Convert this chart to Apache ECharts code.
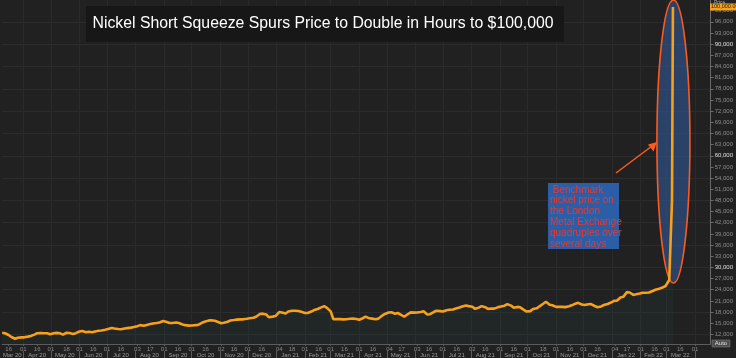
<!DOCTYPE html>
<html><head><meta charset="utf-8">
<script src="https://cdn.jsdelivr.net/npm/echarts@6/dist/echarts.min.js"></script>
<style>html,body{margin:0;padding:0;background:#212121;}#c{width:736px;height:358px;}</style>
</head><body><div id="c"></div>
<script>
const dates = [
'2020-03-09','2020-03-12','2020-03-16','2020-03-19','2020-03-23','2020-03-26','2020-03-30','2020-04-02','2020-04-06','2020-04-09',
'2020-04-13','2020-04-16','2020-04-20','2020-04-23','2020-04-27','2020-04-30','2020-05-04','2020-05-07','2020-05-11','2020-05-14',
'2020-05-18','2020-05-21','2020-05-25','2020-05-28','2020-06-01','2020-06-04','2020-06-08','2020-06-11','2020-06-15','2020-06-18',
'2020-06-22','2020-06-25','2020-06-29','2020-07-02','2020-07-06','2020-07-09','2020-07-13','2020-07-16','2020-07-20','2020-07-23',
'2020-07-27','2020-07-30','2020-08-03','2020-08-06','2020-08-10','2020-08-13','2020-08-17','2020-08-20','2020-08-24','2020-08-27',
'2020-08-31','2020-09-03','2020-09-07','2020-09-10','2020-09-14','2020-09-17','2020-09-21','2020-09-24','2020-09-28','2020-10-01',
'2020-10-05','2020-10-08','2020-10-12','2020-10-15','2020-10-19','2020-10-22','2020-10-26','2020-10-29','2020-11-02','2020-11-05',
'2020-11-09','2020-11-12','2020-11-16','2020-11-19','2020-11-23','2020-11-26','2020-11-30','2020-12-03','2020-12-07','2020-12-10',
'2020-12-14','2020-12-17','2020-12-21','2020-12-24','2020-12-28','2020-12-31',
'2021-01-04','2021-01-07','2021-01-11','2021-01-14','2021-01-18','2021-01-21','2021-01-25','2021-01-28','2021-02-01','2021-02-04',
'2021-02-08','2021-02-11','2021-02-15','2021-02-18','2021-02-22','2021-02-25','2021-03-01','2021-03-04','2021-03-08','2021-03-11',
'2021-03-15','2021-03-18','2021-03-22','2021-03-25','2021-03-29','2021-04-01','2021-04-05','2021-04-08','2021-04-12','2021-04-15',
'2021-04-19','2021-04-22','2021-04-26','2021-04-29','2021-05-03','2021-05-06','2021-05-10','2021-05-13','2021-05-17','2021-05-20',
'2021-05-24','2021-05-27','2021-05-31','2021-06-03','2021-06-07','2021-06-10','2021-06-14','2021-06-17','2021-06-21','2021-06-24',
'2021-06-28','2021-07-01','2021-07-05','2021-07-08','2021-07-12','2021-07-15','2021-07-19','2021-07-22','2021-07-26','2021-07-29',
'2021-08-02','2021-08-05','2021-08-09','2021-08-12','2021-08-16','2021-08-19','2021-08-23','2021-08-26','2021-08-30','2021-09-02',
'2021-09-06','2021-09-09','2021-09-13','2021-09-16','2021-09-20','2021-09-23','2021-09-27','2021-09-30','2021-10-04','2021-10-07',
'2021-10-11','2021-10-14','2021-10-18','2021-10-21','2021-10-25','2021-10-28','2021-11-01','2021-11-04','2021-11-08','2021-11-11',
'2021-11-15','2021-11-18','2021-11-22','2021-11-25','2021-11-29','2021-12-02','2021-12-06','2021-12-09','2021-12-13','2021-12-16',
'2021-12-20','2021-12-23','2021-12-27','2021-12-30',
'2022-01-03','2022-01-06','2022-01-10','2022-01-13','2022-01-17','2022-01-19','2022-01-20','2022-01-24','2022-01-27','2022-01-31',
'2022-02-03','2022-02-07','2022-02-10','2022-02-14','2022-02-17','2022-02-21','2022-02-24','2022-02-28','2022-03-02','2022-03-03',
'2022-03-04','2022-03-07','2022-03-08'
];
const prices = [
12450,12300,11810,11270,10800,11090,11190,11190,11380,11570,
11920,12300,12350,12270,12270,12030,12300,12400,12270,11920,
12430,12350,12110,12320,12750,12890,12560,12700,12540,12750,
12940,13050,13240,13420,13720,13590,13420,13370,13560,13670,
13800,13960,14200,14470,14310,14530,14770,14900,15040,15200,
15580,15390,15040,15060,15170,15060,14660,14470,14340,14390,
14470,14550,15090,15360,15680,15790,15630,15390,14980,15120,
15390,15710,15840,15950,16030,16030,16190,16330,16440,16730,
17460,17560,17320,16570,16760,16920,
17990,17860,17590,18130,18320,18340,18260,18050,17730,17730,
18130,18530,18800,19180,19550,19120,18180,16060,16090,16090,
16030,16060,16170,16220,16110,15920,16330,16780,16300,16220,
16030,16220,17050,17480,17860,17910,17540,17730,17190,16730,
17460,17890,17830,17860,17990,18210,17320,17400,17990,18340,
18240,18130,18480,18590,18670,18930,19200,19500,19740,19580,
19420,18850,19180,19580,19280,18850,18960,18910,19310,19470,
19690,20120,19720,19120,19370,19260,18590,18130,18240,18800,
18990,19530,20230,20760,19930,19800,19390,19420,19390,19310,
19550,19800,20250,20470,20010,19900,20090,20120,19610,19280,
19500,19880,20170,20470,
20980,21030,21920,22080,23340,23660,23240,22590,22750,22970,
23180,23180,23240,23660,23990,24280,24500,24980,25790,26110,
26600,48000,100000
];
const dayTickDates = ['2020-03-16','2020-04-01','2020-04-16','2020-05-01','2020-05-18','2020-06-01','2020-06-16','2020-07-01','2020-07-16','2020-08-03','2020-08-17','2020-09-01','2020-09-16','2020-10-01','2020-10-16','2020-11-02','2020-11-16','2020-12-01','2020-12-16','2021-01-04','2021-01-18','2021-02-01','2021-02-16','2021-03-01','2021-03-16','2021-04-01','2021-04-16','2021-05-04','2021-05-17','2021-06-03','2021-06-16','2021-07-01','2021-07-16','2021-08-02','2021-08-16','2021-09-01','2021-09-16','2021-10-01','2021-10-18','2021-11-01','2021-11-16','2021-12-01','2021-12-16','2022-01-04','2022-01-17','2022-02-01','2022-02-16','2022-03-01','2022-03-16','2022-04-01'];
const monthLabelDates = ['2020-03-20','2020-04-16','2020-05-16','2020-06-16','2020-07-16','2020-08-16','2020-09-16','2020-10-16','2020-11-16','2020-12-16','2021-01-16','2021-02-15','2021-03-16','2021-04-16','2021-05-16','2021-06-16','2021-07-16','2021-08-16','2021-09-16','2021-10-16','2021-11-16','2021-12-16','2022-01-16','2022-02-15','2022-03-16'];
const monthStartDates = ['2020-04-01','2020-05-01','2020-06-01','2020-07-01','2020-08-01','2020-09-01','2020-10-01','2020-11-01','2020-12-01','2021-01-01','2021-02-01','2021-03-01','2021-04-01','2021-05-01','2021-06-01','2021-07-01','2021-08-01','2021-09-01','2021-10-01','2021-11-01','2021-12-01','2022-01-01','2022-02-01','2022-03-01','2022-04-01'];
const monthNames = ['Jan','Feb','Mar','Apr','May','Jun','Jul','Aug','Sep','Oct','Nov','Dec'];
const priceTicks = [12000,15000,18000,21000,24000,27000,30000,33000,36000,39000,42000,45000,48000,51000,54000,57000,60000,63000,66000,69000,72000,75000,78000,81000,84000,87000,90000,93000,96000,99000];
const gridTicks = [12000,18000,24000,30000,36000,42000,48000,54000,60000,66000,72000,78000,84000,90000,96000];
const brightTicks = [30000,60000,90000];
const titleText = 'Nickel Short Squeeze Spurs Price to Double in Hours to $100,000';
const noteLines = [' Benchmark','nickel price on','the London','Metal Exchange','quadruples over','several days'];
const lastValueText = '100,000.00';
const axisName = 'Price';

function ts(s){const p=s.split('-').map(Number);return new Date(p[0],p[1]-1,p[2]).getTime();}
const fmtNum = v => v.toLocaleString('en-US');
const FONT = '"Liberation Sans", Arial, sans-serif';
const xMin = ts('2020-03-09'), xMax = ts('2022-04-18');

const chart = echarts.init(document.getElementById('c'), null, {renderer:'canvas'});
const option = {
  backgroundColor: '#212121',
  animation: false,
  grid: {left: 2, right: 24, top: 0, bottom: 14},
  xAxis: [{
    type: 'value', min: xMin, max: xMax, position: 'bottom',
    axisLine: {show: true, lineStyle: {color: '#5c5c5c', width: 1}},
    axisTick: {show: true, customValues: dayTickDates.map(ts), length: 2, lineStyle: {color: '#5c5c5c'}},
    axisLabel: {customValues: dayTickDates.map(ts), formatter: v => String(new Date(v).getDate()).padStart(2,'0'),
      fontSize: 6, color: '#8c8c8c', margin: 2, fontFamily: FONT},
    splitLine: {show: false}
  },{
    type: 'value', min: xMin, max: xMax, position: 'bottom', offset: 7,
    axisLine: {show: false},
    axisTick: {show: true, customValues: monthStartDates.map(ts), length: 7, lineStyle: {color: '#5c5c5c'}},
    axisLabel: {customValues: monthLabelDates.map(ts), formatter: v => {const d=new Date(v);return monthNames[d.getMonth()]+' '+String(d.getFullYear()).slice(2);},
      fontSize: 6, color: '#9a9a9a', margin: 1, fontFamily: FONT},
    splitLine: {show: true, lineStyle: {color: '#2a2a2a', width: 1}}
  }],
  yAxis: [{
    type: 'value', position: 'right', min: 9400, max: 101870,
    axisLine: {show: true, lineStyle: {color: '#6a6a6a'}},
    axisTick: {show: true, customValues: priceTicks, length: 3, lineStyle: {color: '#6a6a6a'}},
    axisLabel: {customValues: priceTicks, margin: 4, fontSize: 6, fontFamily: FONT,
      formatter: v => brightTicks.includes(v) ? '{b|'+fmtNum(v)+'}' : fmtNum(v),
      color: '#8c8c8c', rich: {b: {color: '#e0e0e0', fontSize: 6, fontFamily: FONT}}},
    splitLine: {show: false}
  },{
    type: 'value', position: 'left', min: 9400, max: 101870,
    axisLine: {show: false}, axisLabel: {show: false},
    axisTick: {show: false, customValues: gridTicks},
    splitLine: {show: true, lineStyle: {color: '#2c2c2c', width: 1}}
  }],
  series: [{
    type: 'line', xAxisIndex: 0, yAxisIndex: 0,
    data: dates.map((d,i)=>[ts(d), prices[i]]),
    showSymbol: false, symbol: 'none',
    lineStyle: {color: '#f7a11a', width: 2.6},
    areaStyle: {color: 'rgba(40,72,72,0.22)'},
    z: 5
  }]
};
chart.setOption(option);

const spike = chart.convertToPixel({xAxisIndex:0, yAxisIndex:0}, [ts('2022-03-08'), 100000]);
const cx = spike[0] + 0.5;
chart.setOption({
  graphic: [
    {type:'rect', z:50, shape:{x:86, y:6, width:478, height:36}, style:{fill:'#171717'}},
    {type:'text', z:51, x:323, y:24, style:{text:titleText, fill:'#ffffff', font:'15.8px '+FONT, align:'center', verticalAlign:'middle'}},
    {type:'ellipse', z:1, shape:{cx:cx, cy:141.5, rx:16.5, ry:141.5}, style:{fill:'rgba(48,88,150,0.6)', stroke:'#ff5a1e', lineWidth:1.6}},
    {type:'line', z:60, shape:{x1:616, y1:173, x2:652, y2:146}, style:{stroke:'#ff5a1e', lineWidth:1.5}},
    {type:'polygon', z:60, shape:{points:[[657,142],[648,144.5],[653.5,151.5]]}, style:{fill:'#ff5a1e'}},
    {type:'rect', z:60, shape:{x:548, y:183, width:71, height:66}, style:{fill:'#2c5ea8'}},
    {type:'text', z:61, x:550, y:184.5, style:{text:noteLines.join('\n'), fill:'#e8392c', font:'10px '+FONT, lineHeight:10.8}},
    {type:'text', z:61, x:714, y:0, style:{text:axisName, fill:'#aaaaaa', font:'5px '+FONT}},
    {type:'rect', z:61, shape:{x:710, y:spike[1]-3.5, width:26, height:7}, style:{fill:'#f7a11a'}},
    {type:'text', z:62, x:711, y:spike[1], style:{text:lastValueText, fill:'#1a1a1a', font:'5.5px '+FONT, verticalAlign:'middle'}},
    {type:'rect', z:61, shape:{x:712, y:340, width:18, height:7}, style:{fill:'#4d4d4d', stroke:'#8a8a8a', lineWidth:0.5}},
    {type:'text', z:62, x:721, y:343.5, style:{text:'Auto', fill:'#e0e0e0', font:'6px '+FONT, align:'center', verticalAlign:'middle'}}
  ]
});
</script></body></html>
